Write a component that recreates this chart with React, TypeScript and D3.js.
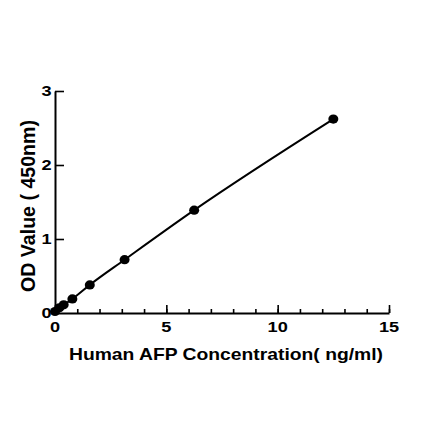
import { useEffect, useRef } from 'react';
import * as d3 from 'd3';

// standard curve (ng/ml vs OD450)
const conc = [0, 0.195, 0.39, 0.78, 1.5625, 3.125, 6.25, 12.5];
const od = [0.02, 0.07, 0.11, 0.19, 0.38, 0.72, 1.39, 2.62];
const xTicks = [0, 5, 10, 15];
const xMinor = d3.range(0, 16, 1);
const yTicks = [0, 1, 2, 3];

export default function App() {
  const svgRef = useRef<SVGSVGElement>(null);

  useEffect(() => {
    if (!svgRef.current) return;
    const W = 440, H = 441;
    const svg = d3.select(svgRef.current).attr('width', W).attr('height', H);
    svg.selectAll('*').remove();

    const x = d3.scaleLinear().domain([0, 15]).range([55, 389]);
    const y = d3.scaleLinear().domain([0, 3]).range([313, 91]);
    const font = '"Liberation Sans", Arial, sans-serif';
    const stretch = 1.3; // the picture is wider than tall: text is stretched sideways

    // x axis: minor ticks every 1, major every 5, pointing up
    const gx = svg.append('g').attr('transform', `translate(0,${y(0)})`);
    gx.call(d3.axisBottom(x).tickValues(xMinor).tickSize(-4).tickFormat(() => '').tickSizeOuter(0));
    const gxMajor = svg.append('g').attr('transform', `translate(0,${y(0)})`);
    gxMajor.call(d3.axisBottom(x).tickValues(xTicks).tickSize(-8).tickFormat(() => '').tickSizeOuter(0));
    gxMajor.select('.domain').remove();
    gx.selectAll('.domain').style('stroke', '#000').style('stroke-width', 2);
    svg.selectAll('.tick line').style('stroke', '#000').style('stroke-width', 1.6);

    svg.append('g').selectAll('text').data(xTicks).join('text')
      .attr('transform', d => `translate(${x(d)},${y(0) + 18.5}) scale(${stretch},1)`)
      .attr('text-anchor', 'middle')
      .style('font-family', font).style('font-weight', 'bold').style('font-size', '14px')
      .text(d => d);

    // y axis: ticks pointing right
    const gy = svg.append('g').attr('transform', `translate(${x(0)},0)`);
    gy.call(d3.axisLeft(y).tickValues(yTicks.slice(1)).tickSize(-9).tickFormat(() => '').tickSizeOuter(0));
    gy.selectAll('.domain').style('stroke', '#000').style('stroke-width', 2);
    gy.selectAll('.tick line').style('stroke', '#000').style('stroke-width', 1.6);

    svg.append('g').selectAll('text').data(yTicks).join('text')
      .attr('transform', d => `translate(${x(0) - 3.5},${y(d) + 5}) scale(${stretch},1)`)
      .attr('text-anchor', 'end')
      .style('font-family', font).style('font-weight', 'bold').style('font-size', '14px')
      .text(d => d);

    // curve
    const pts = conc.map((c, i) => [c, od[i]] as [number, number]);
    const line = d3.line<[number, number]>()
      .x(d => x(d[0])).y(d => y(d[1]))
      .curve(d3.curveMonotoneX);
    svg.append('path').datum(pts).attr('d', line)
      .style('fill', 'none').style('stroke', '#000').style('stroke-width', 2);

    svg.append('g').selectAll('ellipse').data(pts).join('ellipse')
      .attr('cx', d => x(d[0])).attr('cy', d => y(d[1])).attr('rx', 5).attr('ry', 4.6)
      .style('fill', '#000');

    // titles
    svg.append('text').attr('x', 226).attr('y', 360)
      .attr('text-anchor', 'middle')
      .attr('textLength', 314).attr('lengthAdjust', 'spacingAndGlyphs')
      .style('font-family', font).style('font-weight', 'bold').style('font-size', '17px')
      .text('Human AFP Concentration( ng/ml)');
    svg.append('text')
      .attr('transform', `translate(35,206) rotate(-90) scale(1,${1.2})`)
      .attr('text-anchor', 'middle')
      .attr('textLength', 172).attr('lengthAdjust', 'spacingAndGlyphs')
      .style('font-family', font).style('font-weight', 'bold').style('font-size', '17px')
      .text('OD Value ( 450nm)');
  }, []);

  return (
    <div style={{ position: 'absolute', left: 0, top: 0 }}>
      <svg ref={svgRef} style={{ display: 'block', background: '#fff' }} />
    </div>
  );
}
